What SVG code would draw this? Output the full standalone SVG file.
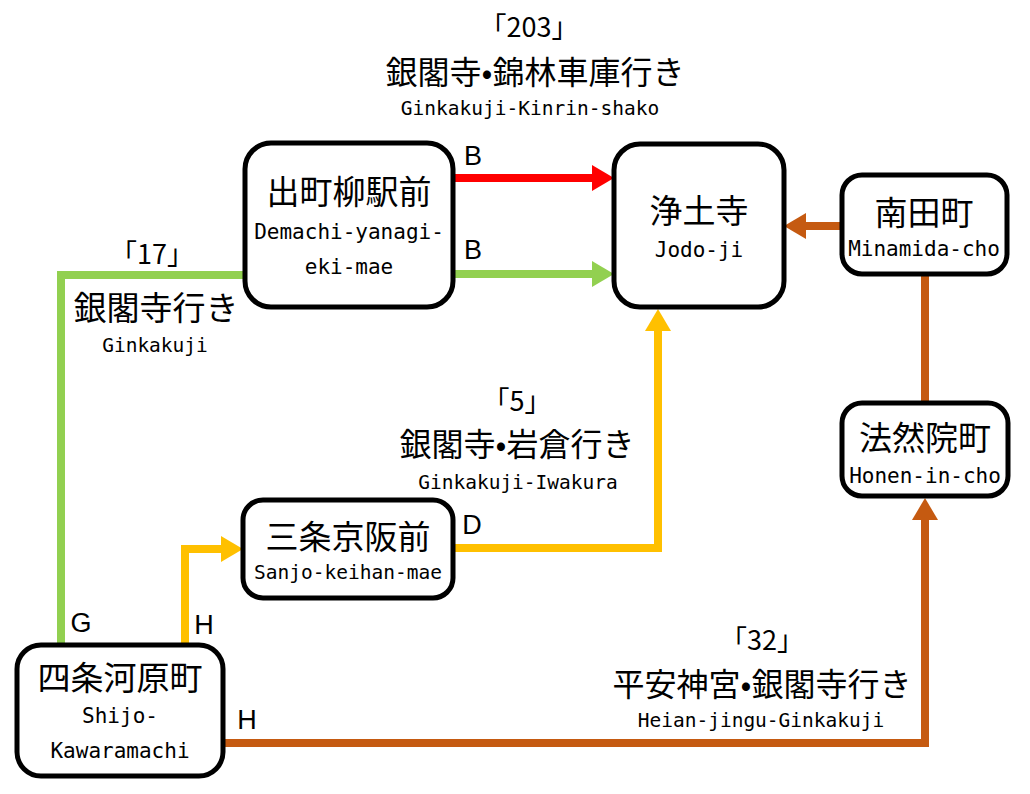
<svg xmlns="http://www.w3.org/2000/svg" width="1030" height="794" viewBox="0 0 1030 794">
<style>
.box{fill:#fff;stroke:#000;stroke-width:5}
.jp{font-family:"Noto Sans CJK JP",sans-serif;font-size:33px;fill:#000;text-anchor:middle;dominant-baseline:central}
.jpb{font-family:"Noto Sans CJK JP",sans-serif;font-size:32px;fill:#000;text-anchor:middle;dominant-baseline:central}
.num{font-family:"Noto Sans CJK JP",sans-serif;font-size:27px;fill:#000;text-anchor:middle;dominant-baseline:central}
.en{font-family:"DejaVu Sans Mono",monospace;font-size:21px;fill:#000;text-anchor:middle;dominant-baseline:central}
.en2{font-family:"DejaVu Sans Mono",monospace;font-size:19.5px;fill:#000;text-anchor:middle;dominant-baseline:central}
.lt{font-family:"Liberation Sans",Arial,sans-serif;font-size:27px;fill:#000;text-anchor:middle;dominant-baseline:central}
.ln{fill:none;stroke-width:8;stroke-linejoin:miter}
</style>
<defs>
<marker id="aR" markerUnits="userSpaceOnUse" markerWidth="22" markerHeight="26" refX="0" refY="13" orient="auto"><path d="M0,0 L22,13 L0,26 z" fill="#FF0000"/></marker>
<marker id="aG" markerUnits="userSpaceOnUse" markerWidth="22" markerHeight="26" refX="0" refY="13" orient="auto"><path d="M0,0 L22,13 L0,26 z" fill="#92D050"/></marker>
<marker id="aY" markerUnits="userSpaceOnUse" markerWidth="22" markerHeight="26" refX="0" refY="13" orient="auto"><path d="M0,0 L22,13 L0,26 z" fill="#FFC000"/></marker>
<marker id="aB" markerUnits="userSpaceOnUse" markerWidth="22" markerHeight="26" refX="0" refY="13" orient="auto"><path d="M0,0 L22,13 L0,26 z" fill="#C55A11"/></marker>
</defs>
<rect width="1030" height="794" fill="#fff"/>
<g id="connectors">
<path class="ln" stroke="#FF0000" d="M453,178 H592" marker-end="url(#aR)"/>
<path class="ln" stroke="#92D050" d="M453,274 H592" marker-end="url(#aG)"/>
<path class="ln" stroke="#92D050" d="M245,275 H61 V645"/>
<path class="ln" stroke="#FFC000" d="M185,645 V549 H221" marker-end="url(#aY)"/>
<path class="ln" stroke="#FFC000" d="M453,548 H658 V331" marker-end="url(#aY)"/>
<path class="ln" stroke="#C55A11" d="M842,226 H806" marker-end="url(#aB)"/>
<path class="ln" stroke="#C55A11" d="M925,274 V403"/>
<path class="ln" stroke="#C55A11" d="M223,743 H925 V520" marker-end="url(#aB)"/>
</g>
<g id="labels">
<text class="num" x="529" y="25">「203」</text>
<text class="jpb" x="535" y="70">銀閣寺•錦林車庫行き</text>
<text class="en2" x="530" y="108">Ginkakuji-Kinrin-shako</text>
<text class="num" x="152" y="252">「17」</text>
<text class="jp" x="156" y="306">銀閣寺行き</text>
<text class="en2" x="155" y="345">Ginkakuji</text>
<text class="num" x="517" y="399">「5」</text>
<text class="jpb" x="517" y="442">銀閣寺•岩倉行き</text>
<text class="en2" x="518" y="482">Ginkakuji-Iwakura</text>
<text class="num" x="762" y="638">「32」</text>
<text class="jpb" x="762" y="682">平安神宮•銀閣寺行き</text>
<text class="en2" x="761" y="720">Heian-jingu-Ginkakuji</text>
<text class="lt" x="473" y="156">B</text>
<text class="lt" x="473" y="250">B</text>
<text class="lt" x="472" y="525">D</text>
<text class="lt" x="81" y="623">G</text>
<text class="lt" x="204" y="625">H</text>
<text class="lt" x="247" y="720">H</text>
</g>
<g id="demachi">
<rect class="box" x="245" y="143" width="208" height="164" rx="26"/>
<text class="jp" x="349" y="190">出町柳駅前</text>
<text class="en" x="349" y="232">Demachi-yanagi-</text>
<text class="en" x="349" y="267">eki-mae</text>
</g>
<g id="jodoji">
<rect class="box" x="614" y="144" width="170" height="163" rx="26"/>
<text class="jp" x="699" y="209">浄土寺</text>
<text class="en" x="699" y="250">Jodo-ji</text>
</g>
<g id="minamida">
<rect class="box" x="842" y="175" width="165" height="99" rx="20"/>
<text class="jp" x="924" y="211">南田町</text>
<text class="en" x="924" y="249">Minamida-cho</text>
</g>
<g id="honen">
<rect class="box" x="842" y="403" width="166" height="93" rx="20"/>
<text class="jp" x="925" y="436">法然院町</text>
<text class="en" x="925" y="476">Honen-in-cho</text>
</g>
<g id="sanjo">
<rect class="box" x="243" y="500" width="210" height="98" rx="20"/>
<text class="jp" x="348" y="535">三条京阪前</text>
<text class="en2" x="348" y="572">Sanjo-keihan-mae</text>
</g>
<g id="shijo">
<rect class="box" x="17" y="645" width="206" height="131" rx="24"/>
<text class="jp" x="120" y="676">四条河原町</text>
<text class="en" x="120" y="716">Shijo-</text>
<text class="en" x="120" y="751">Kawaramachi</text>
</g>
</svg>
